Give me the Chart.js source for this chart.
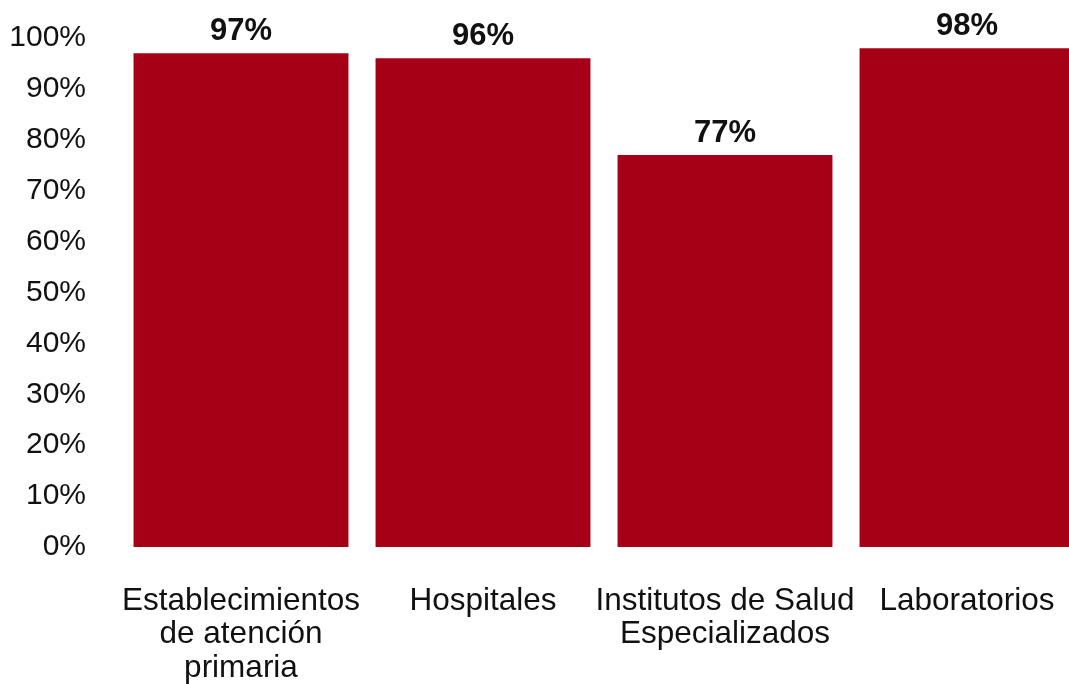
<!DOCTYPE html>
<html>
<head>
<meta charset="utf-8">
<script src="https://cdn.jsdelivr.net/npm/chart.js@4/dist/chart.umd.min.js"></script>
<style>
  html, body { margin: 0; padding: 0; background: #fff; overflow: hidden; }
  #wrap { width: 1088px; height: 684px; }
</style>
</head>
<body>
<div id="wrap"><canvas id="barChart" width="1088" height="684"></canvas></div>
<script>
const categories = [
    ['Establecimientos', 'de atención', 'primaria'],
    'Hospitales',
    ['Institutos de Salud', 'Especializados'],
    'Laboratorios'
];
const values = [97, 96, 77, 98];
const yTicks = [0, 10, 20, 30, 40, 50, 60, 70, 80, 90, 100];

const FONT = '"Liberation Sans", Arial, sans-serif';
const BAR_RED = '#A50016';

// writes the percentage over each bar
const valueLabels = {
    id: 'valueLabels',
    afterDatasetsDraw(chart) {
        const ctx = chart.ctx;
        const meta = chart.getDatasetMeta(0);
        ctx.save();
        ctx.font = 'bold 31px ' + FONT;
        ctx.fillStyle = '#111';
        ctx.textAlign = 'center';
        ctx.textBaseline = 'middle';
        meta.data.forEach((bar, i) => {
            ctx.fillText(values[i] + '%', bar.x, bar.y - 22);
        });
        ctx.restore();
    }
};

new Chart(document.getElementById('barChart').getContext('2d'), {
    type: 'bar',
    data: {
        labels: categories,
        datasets: [{ data: values, backgroundColor: BAR_RED, borderWidth: 0, barPercentage: 0.888, categoryPercentage: 1 }]
    },
    options: {
        responsive: false, animation: false,
        layout: { padding: { top: 0, left: 0, right: 0, bottom: 0 } },
        plugins: { legend: { display: false }, tooltip: { enabled: false } },
        scales: {
            x: {
                grid: { display: false }, border: { display: false },
                ticks: { color: '#111', font: { family: FONT, size: 31.5, lineHeight: 1.07 }, padding: 29, maxRotation: 0, autoSkip: false },
                afterFit: s => { s.height = 137; }
            },
            y: {
                min: 0, max: 100,
                grid: { display: false }, border: { display: false },
                afterBuildTicks: s => { s.ticks = yTicks.map(v => ({ value: v })); },
                ticks: { color: '#111', font: { family: FONT, size: 30, lineHeight: 0.8 }, padding: 26, callback: v => v + '%' },
                afterFit: s => { s.width = 120; }
            }
        }
    },
    plugins: [valueLabels]
});
</script>
</body>
</html>
